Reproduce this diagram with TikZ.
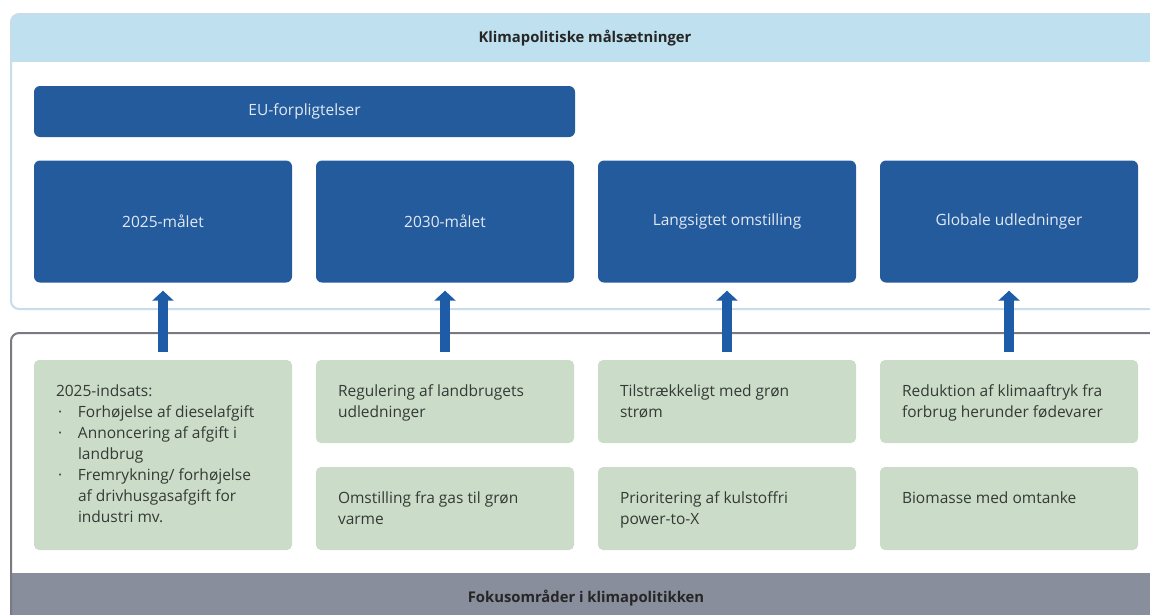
\documentclass[tikz,border=0pt]{standalone}
\usepackage{fontspec}
\setmainfont{Open Sans}
\usetikzlibrary{arrows.meta,positioning}

\definecolor{maalblaa}{RGB}{35,91,157}
\definecolor{maaltekst}{RGB}{226,233,243}
\definecolor{pilblaa}{RGB}{30,92,168}
\definecolor{fokusgroen}{RGB}{203,221,201}
\definecolor{fokustekst}{RGB}{52,58,54}
\definecolor{baandblaa}{RGB}{191,225,239}
\definecolor{rammeblaa}{RGB}{200,221,236}
\definecolor{baandgraa}{RGB}{136,142,156}
\definecolor{rammegraa}{RGB}{122,122,128}

% text block inside a focus box, top aligned
\newcommand{\fokusblok}[2]{\parbox[c][#1][t]{214pt}{\parskip=0pt\vspace*{25pt}#2}}
\newcommand{\punkt}[1]{\par\hangindent=22pt\hangafter=1\noindent\makebox[22pt][l]{\hspace{2pt}·}#1}

\begin{document}
\begin{tikzpicture}[node distance = 282pt,
    maal/.style = {fill=maalblaa, text=maaltekst, rounded corners=6pt, inner sep=0pt,
      minimum width=258pt, minimum height=122pt, font=\fontsize{15.5}{18}\selectfont},
    fokus/.style = {fill=fokusgroen, text=fokustekst, rounded corners=5pt, inner sep=0pt,
      minimum width=258pt, font=\fontsize{15.5}{21}\selectfont},
    titel/.style = {text=black!85, font=\fontsize{14.8}{18}\selectfont\bfseries},
    pil/.style = {draw=pilblaa, line width=10pt, -{Triangle[width=21pt,length=10pt]},
      shorten <= 8pt, shorten >= 8pt}]
      \useasboundingbox (0,0) rectangle (1150pt,-614pt);
      % frames
      \begin{scope}
        \clip[rounded corners=8pt] (11pt,-14pt) rectangle (1162pt,-309pt);
        \fill[white] (11pt,-14pt) rectangle (1162pt,-309pt);
        \fill[baandblaa] (11pt,-14pt) rectangle (1162pt,-62pt);
      \end{scope}
      \draw[rammeblaa, line width=2pt, rounded corners=8pt] (11pt,-14pt) rectangle (1162pt,-309pt);
      \begin{scope}
        \clip[rounded corners=8pt] (11pt,-333pt) rectangle (1162pt,-640pt);
        \fill[baandgraa] (11pt,-573pt) rectangle (1162pt,-640pt);
      \end{scope}
      \draw[rammegraa, line width=2pt, rounded corners=8pt] (11pt,-333pt) rectangle (1162pt,-640pt);
      \node[titel] (klima) at (585pt,-38pt) {Klimapolitiske målsætninger};
      \node[titel] (fokusomr) at (586pt,-598pt) {Fokusområder i klimapolitikken};

      % place nodes
      \node[maal, minimum width=541pt, minimum height=51pt] (eu) at (304.5pt,-111.5pt) {EU-forpligtelser};
      \node[maal] (m2025) at (163pt,-221.5pt) {2025-målet};
      \node[maal] (m2030) [right of = m2025] {2030-målet};
      \node[maal] (mlang) [right of = m2030] {Langsigtet omstilling};
      \node[maal] (mglobal) [right of = mlang] {Globale udledninger};

      \node[fokus] (f2025) [below of = m2025, node distance = 233.5pt] {\fokusblok{190pt}{2025-indsats:
          \punkt{Forhøjelse af dieselafgift}
          \punkt{Annoncering af afgift i\\ landbrug}
          \punkt{Fremrykning/ forhøjelse\\ af drivhusgasafgift for\\ industri mv.}}};
      \node[fokus] (fland) [below of = m2030, node distance = 180pt] {\fokusblok{83pt}{Regulering af landbrugets\\ udledninger}};
      \node[fokus] (fstroem) [below of = mlang, node distance = 180pt] {\fokusblok{83pt}{Tilstrækkeligt med grøn\\ strøm}};
      \node[fokus] (fforbrug) [below of = mglobal, node distance = 180pt] {\fokusblok{83pt}{Reduktion af klimaaftryk fra\\ forbrug herunder fødevarer}};
      \node[fokus] (fvarme) [below of = fland, node distance = 107pt] {\fokusblok{83pt}{Omstilling fra gas til grøn\\ varme}};
      \node[fokus] (fptx) [below of = fstroem, node distance = 107pt] {\fokusblok{83pt}{Prioritering af kulstoffri\\ power-to-X}};
      \node[fokus] (fbiomasse) [below of = fforbrug, node distance = 107pt] {\fokusblok{83pt}{Biomasse med omtanke}};

      % draw arrows
      \draw [pil] (f2025) -- (m2025);
      \draw [pil] (fland) -- (m2030);
      \draw [pil] (fstroem) -- (mlang);
      \draw [pil] (fforbrug) -- (mglobal);
    \end{tikzpicture}
\end{document}
